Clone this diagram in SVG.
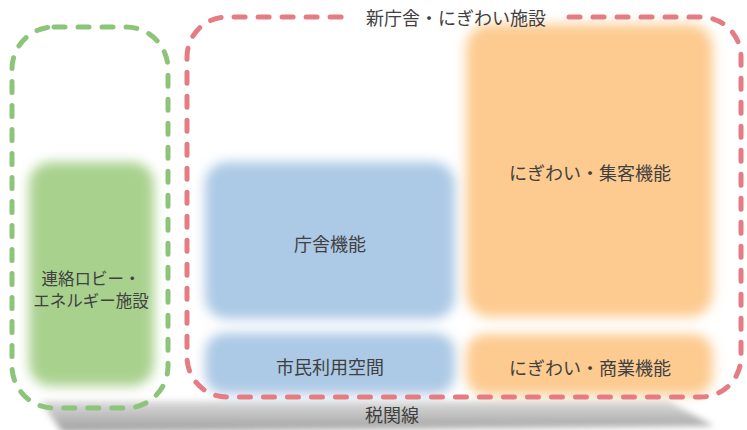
<svg xmlns="http://www.w3.org/2000/svg" width="747" height="430" viewBox="0 0 747 430">
<defs>
<filter id="soft" x="-20%" y="-20%" width="140%" height="140%"><feGaussianBlur stdDeviation="6"/></filter>
<filter id="soft2" x="-20%" y="-50%" width="140%" height="200%"><feGaussianBlur stdDeviation="3"/></filter>
<linearGradient id="band" x1="0" y1="0" x2="0" y2="1">
<stop offset="0" stop-color="#dcdcdc"/><stop offset="1" stop-color="#9e9e9e"/>
</linearGradient>
<style>
text{font-family:"Noto Sans CJK JP","Noto Sans",sans-serif;fill:#404040;text-anchor:middle;dominant-baseline:central}
.lbl{font-size:18px}
.dash{fill:none;stroke-width:5;stroke-linecap:round;stroke-dasharray:11 13}
</style>
</defs>
<rect width="747" height="430" fill="#ffffff"/>
<g id="customs-line">
<polygon points="40,401 668,401 714,426 62,432" fill="url(#band)" filter="url(#soft2)"/>
<text class="lbl" x="392" y="414">税関線</text>
</g>
<g id="lobby">
<rect x="29" y="162" width="125" height="224" rx="22" fill="#a9d18e" filter="url(#soft)"/>
<text x="91" y="278" style="font-size:16.5px">連絡ロビー・</text>
<text x="91" y="300" style="font-size:16.5px">エネルギー施設</text>
</g>
<g id="office">
<rect x="205" y="162" width="250" height="157" rx="22" fill="#acc9e5" filter="url(#soft)"/>
<text class="lbl" x="330" y="243">庁舎機能</text>
</g>
<g id="civic">
<rect x="205" y="333" width="250" height="61" rx="20" fill="#acc9e5" filter="url(#soft)"/>
<text class="lbl" x="330" y="366">市民利用空間</text>
</g>
<g id="gathering">
<rect x="466" y="24" width="247" height="293" rx="24" fill="#fdcb90" filter="url(#soft)"/>
<text class="lbl" x="590" y="172">にぎわい・集客機能</text>
</g>
<g id="commerce">
<rect x="466" y="334" width="247" height="61" rx="20" fill="#fdcb90" filter="url(#soft)"/>
<text class="lbl" x="590" y="367">にぎわい・商業機能</text>
</g>
<g id="connectors">
<rect id="lobby-boundary" class="dash" x="12" y="27" width="156" height="381" rx="42" stroke="#8cc47a" stroke-width="4.5"/>
<path id="civic-boundary" class="dash" stroke="#e57c83" d="M569,17 H701 A40,40 0 0 1 741,57 V357 A40,40 0 0 1 701,397 H227 A40,40 0 0 1 187,357 V57 A40,40 0 0 1 227,17 H353"/>
</g>
<g id="civic-title">
<text class="lbl" x="456" y="17">新庁舎・にぎわい施設</text>
</g>
</svg>
